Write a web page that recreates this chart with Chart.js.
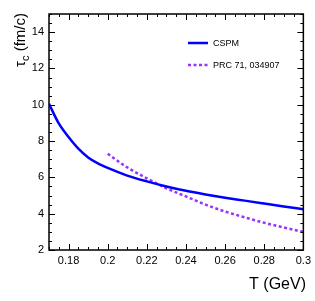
<!DOCTYPE html>
<html>
<head>
<meta charset="utf-8">
<script src="https://cdn.jsdelivr.net/npm/chart.js@4"></script>
<style>
  html, body { margin: 0; padding: 0; background: #fff; }
  #wrap { width: 315px; height: 301px; }
</style>
</head>
<body>
<div id="wrap"><canvas id="c" width="315" height="301"></canvas></div>
<script>
// CSPM curve
const cspmT   = [0.17, 0.175, 0.18, 0.185, 0.19, 0.195, 0.2, 0.21, 0.22, 0.23, 0.24, 0.25, 0.26, 0.27, 0.28, 0.29, 0.3];
const cspmTau = [10.05, 8.97, 8.22, 7.58, 7.1, 6.77, 6.52, 6.1, 5.78, 5.5, 5.26, 5.06, 4.88, 4.72, 4.56, 4.4, 4.25];
// PRC 71, 034907 curve
const prcT   = [0.2, 0.21, 0.22, 0.23, 0.24, 0.25, 0.26, 0.27, 0.28, 0.29, 0.3];
const prcTau = [7.3, 6.55, 5.95, 5.4, 4.95, 4.5, 4.12, 3.8, 3.5, 3.24, 3.0];
// axis ticks
const xTicks = [0.18, 0.2, 0.22, 0.24, 0.26, 0.28, 0.3];
const yTicks = [2, 4, 6, 8, 10, 12, 14];
const seriesNames = ['CSPM', 'PRC 71, 034907'];

const FONT = 'Liberation Sans, Arial, sans-serif';

const pts = (xs, ys) => xs.map((x, i) => ({ x: x, y: ys[i] }));

// frame, inward ticks, legend and axis titles, ROOT style
const rootStyle = {
    id: 'rootStyle',
    afterDraw(chart) {
        const ctx = chart.ctx;
        const a = chart.chartArea;
        const xs = chart.scales.x, ys = chart.scales.y;
        ctx.save();
        ctx.strokeStyle = '#000';
        ctx.lineWidth = 1.5;
        ctx.strokeRect(a.left, a.top, a.right - a.left, a.bottom - a.top);

        ctx.lineWidth = 1;
        ctx.beginPath();
        // x ticks, minor every 0.005
        for (let i = 0; i <= 26; i++) {
            const v = 0.17 + i * 0.005;
            const px = Math.round(xs.getPixelForValue(v)) + 0.5;
            const major = Math.abs(Math.round(v / 0.02) * 0.02 - v) < 1e-6;
            const len = major ? 6 : 3;
            ctx.moveTo(px, a.bottom); ctx.lineTo(px, a.bottom - len);
            ctx.moveTo(px, a.top); ctx.lineTo(px, a.top + len);
        }
        // y ticks, minor every 0.5
        for (let i = 0; i <= 26; i++) {
            const v = 2 + i * 0.5;
            const py = Math.round(ys.getPixelForValue(v)) + 0.5;
            const major = v % 2 === 0;
            const len = major ? 6 : 3;
            ctx.moveTo(a.left, py); ctx.lineTo(a.left + len, py);
            ctx.moveTo(a.right, py); ctx.lineTo(a.right - len, py);
        }
        ctx.stroke();

        // legend
        const ds = chart.data.datasets;
        const lx = 188, ly = [43, 65];
        ds.forEach((d, i) => {
            ctx.save();
            ctx.strokeStyle = d.borderColor;
            ctx.lineWidth = d.borderWidth;
            ctx.setLineDash(d.borderDash || []);
            ctx.beginPath();
            ctx.moveTo(lx, ly[i]); ctx.lineTo(lx + 20, ly[i]);
            ctx.stroke();
            ctx.restore();
            ctx.fillStyle = '#000';
            ctx.font = '9px ' + FONT;
            ctx.textBaseline = 'middle';
            ctx.textAlign = 'left';
            ctx.fillText(d.label, lx + 25, ly[i] + 0.5);
        });

        // x title
        ctx.fillStyle = '#000';
        ctx.font = '16px ' + FONT;
        ctx.textAlign = 'right';
        ctx.textBaseline = 'alphabetic';
        ctx.fillText('T (GeV)', 306, 289);

        // y title with subscript
        ctx.translate(25, 13);
        ctx.rotate(-Math.PI / 2);
        ctx.textAlign = 'left';
        const big = '15px ' + FONT, small = '11px ' + FONT;
        ctx.font = big;
        const w1 = ctx.measureText('\u03c4').width;
        const w3 = ctx.measureText(' (fm/c)').width;
        ctx.font = small;
        const w2 = ctx.measureText('c').width;
        let x0 = -(w1 + w2 + w3);
        ctx.font = big;
        ctx.fillText('\u03c4', x0, 0);
        ctx.font = small;
        ctx.fillText('c', x0 + w1, 4);
        ctx.font = big;
        ctx.fillText(' (fm/c)', x0 + w1 + w2, 0);
        ctx.restore();
    }
};

new Chart(document.getElementById('c'), {
    type: 'line',
    data: {
        datasets: [
            {
                label: seriesNames[0],
                data: pts(cspmT, cspmTau),
                borderColor: '#0000ff',
                borderWidth: 2.5,
                pointRadius: 0,
                cubicInterpolationMode: 'monotone',
                fill: false
            },
            {
                label: seriesNames[1],
                data: pts(prcT, prcTau),
                borderColor: '#9933ff',
                borderWidth: 2.5,
                borderDash: [3, 2.5],
                pointRadius: 0,
                cubicInterpolationMode: 'monotone',
                fill: false
            }
        ]
    },
    options: {
        responsive: false,
        animation: false,
        devicePixelRatio: 1,
        layout: { padding: { left: 0, top: 14, right: 9, bottom: 0 } },
        plugins: { legend: { display: false }, tooltip: { enabled: false } },
        scales: {
            x: {
                type: 'linear',
                min: 0.17, max: 0.3,
                grid: { display: false, drawTicks: false },
                border: { display: false },
                afterBuildTicks: s => { s.ticks = xTicks.map(v => ({ value: v })); },
                afterFit: s => { s.height = 51; },
                ticks: {
                    padding: 4,
                    maxRotation: 0,
                    color: '#000',
                    font: { family: FONT, size: 11 },
                    callback: v => String(+v.toFixed(2))
                }
            },
            y: {
                min: 2, max: 15,
                grid: { display: false, drawTicks: false },
                border: { display: false },
                afterBuildTicks: s => { s.ticks = yTicks.map(v => ({ value: v })); },
                afterFit: s => { s.width = 49; },
                ticks: {
                    padding: 5,
                    color: '#000',
                    font: { family: FONT, size: 11 }
                }
            }
        }
    },
    plugins: [rootStyle]
});
</script>
</body>
</html>
